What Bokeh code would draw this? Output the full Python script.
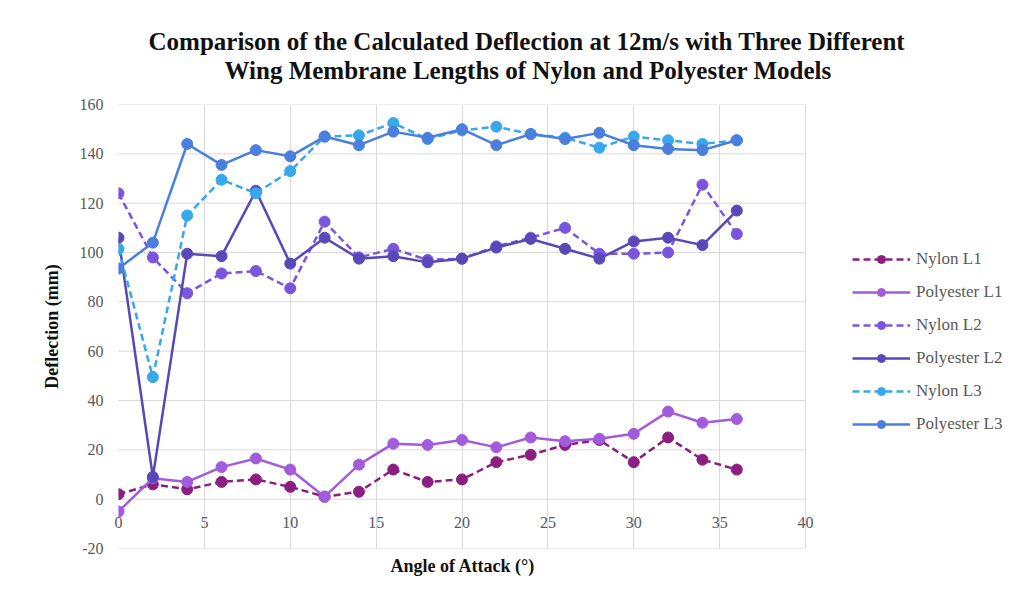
from bokeh.plotting import figure
from bokeh.models import Title, Legend, LegendItem, FixedTicker, ColumnDataSource, PrintfTickFormatter
from bokeh.embed import file_html
from bokeh.resources import INLINE

aoa = [0, 2, 4, 6, 8, 10, 12, 14, 16, 18, 20, 22, 24, 26, 28, 30, 32, 34, 36]
nylon_l1 = [2, 6, 4, 7, 8, 5, 1, 3, 12, 7, 8, 15, 18, 22, 24, 15, 25, 16, 12]
polyester_l1 = [-5, 8.5, 7, 13, 16.5, 12, 1, 14, 22.5, 22, 24, 21, 25, 23.5, 24.5, 26.5, 35.5, 31, 32.5]
nylon_l2 = [124, 98, 83.5, 91.5, 92.5, 85.5, 112.5, 98, 101.5, 97, 97.5, 102.5, 106, 110, 99.5, 99.5, 100, 127.5, 107.5]
polyester_l2 = [106, 9, 99.5, 98.5, 125, 95.5, 106, 97.5, 98.5, 96, 97.5, 102, 105.5, 101.5, 97.5, 104.5, 106, 103, 117]
nylon_l3 = [101.5, 49.5, 115, 129.5, 124, 133, 147, 147.5, 152.5, 146, 149.5, 151, 148, 146.5, 142.5, 147, 145.5, 144, 145.5]
polyester_l3 = [93.5, 104, 144, 135.5, 141.5, 139, 147, 143.5, 149, 146.5, 150, 143.5, 148, 146, 148.5, 143.5, 142, 141.5, 145.5]

series_names = ["Nylon L1", "Polyester L1", "Nylon L2", "Polyester L2", "Nylon L3", "Polyester L3"]
series_values = [nylon_l1, polyester_l1, nylon_l2, polyester_l2, nylon_l3, polyester_l3]
series_colors = ["#8B1E80", "#A35BDE", "#7A55DE", "#5A48B8", "#38A8EA", "#4B7FDD"]
series_dashed = [True, False, True, False, True, False]

x_ticks = [0, 5, 10, 15, 20, 25, 30, 35, 40]
y_ticks = [-20, 0, 20, 40, 60, 80, 100, 120, 140, 160]
x_min, x_max = 0, 40
y_min, y_max = -20, 160

title_line1 = "Comparison of the Calculated Deflection at 12m/s with Three Different"
title_line2 = "Wing Membrane Lengths of Nylon and Polyester Models"

SERIF = "Liberation Serif"
GRID = "#d9d9d9"
LABEL_GRAY = "#595959"

W, H = 1016, 582
LEFT, TOP, BOTTOM = 118, 104, 34
PLOT_W = 687  # pixel width of the 0..40 plotting area; the legend sits to its right
x_view_max = x_max * (W - LEFT) / PLOT_W

p = figure(width=W, height=H, x_range=(x_min, x_view_max), y_range=(y_min, y_max),
           output_backend="svg", toolbar_location=None,
           min_border_left=LEFT, min_border_right=0, min_border_top=TOP, min_border_bottom=BOTTOM)

p.title.text = title_line1
p.title.align = "left"
p.title.offset = 30
p.title.text_font = SERIF
p.title.text_font_size = "25px"
p.title.text_font_style = "bold"
p.title.text_color = "#111111"
p.title.standoff = 0
# white (invisible) spacer between the frame and the second title line
p.add_layout(Title(text=".", text_font_size="10px", text_color="#ffffff", standoff=11), "above")
p.add_layout(Title(text=title_line2, align="left", offset=106, text_font=SERIF,
                   text_font_size="25px", text_font_style="bold", text_color="#111111",
                   standoff=0), "above")

p.outline_line_color = None
p.xgrid.grid_line_color = GRID
p.ygrid.visible = False
p.xaxis.ticker = FixedTicker(ticks=x_ticks)
p.xgrid.ticker = FixedTicker(ticks=x_ticks)
p.yaxis.ticker = FixedTicker(ticks=y_ticks)
p.yaxis.formatter = PrintfTickFormatter(format="%d")

# horizontal gridlines limited to the 0..40 plotting area
p.segment(x0=[x_min] * len(y_ticks), x1=[x_max] * len(y_ticks), y0=y_ticks, y1=y_ticks,
          line_color=GRID, line_width=1)

for ax in (p.xaxis, p.yaxis):
    ax.axis_line_color = None
    ax.major_tick_line_color = None
    ax.minor_tick_line_color = None
    ax.major_label_text_font = SERIF
    ax.major_label_text_font_size = "16px"
    ax.major_label_text_color = LABEL_GRAY

p.xaxis.major_label_standoff = -38
p.xaxis.axis_label = None
p.yaxis.major_label_standoff = 9
p.yaxis.axis_label = "Deflection (mm)"
p.yaxis.axis_label_text_font = SERIF
p.yaxis.axis_label_text_font_size = "18px"
p.yaxis.axis_label_text_font_style = "bold"
p.yaxis.axis_label_text_color = "#111111"
p.yaxis.axis_label_standoff = 15

p.add_layout(Title(text="Angle of Attack (°)", align="left", offset=272, text_font=SERIF,
                   text_font_size="18px", text_font_style="bold", text_color="#111111",
                   standoff=10), "below")

items = []
for name, vals, col, dashed in zip(series_names, series_values, series_colors, series_dashed):
    src = ColumnDataSource(dict(x=aoa, y=vals))
    ln = p.line("x", "y", source=src, line_color=col, line_width=2.5,
                line_dash="7 4" if dashed else "solid")
    sc = p.scatter("x", "y", source=src, size=11, fill_color=col, line_color=col)
    items.append(LegendItem(label=name, renderers=[ln, sc]))

legend = Legend(items=items, location=(734, 114), glyph_width=58, glyph_height=20,
                spacing=13, label_standoff=6, padding=0, margin=0,
                label_text_font=SERIF, label_text_font_size="17px",
                label_text_color=LABEL_GRAY, border_line_color=None,
                background_fill_alpha=0)
p.add_layout(legend, "center")

open("out.html", "w").write(file_html(p, INLINE))
